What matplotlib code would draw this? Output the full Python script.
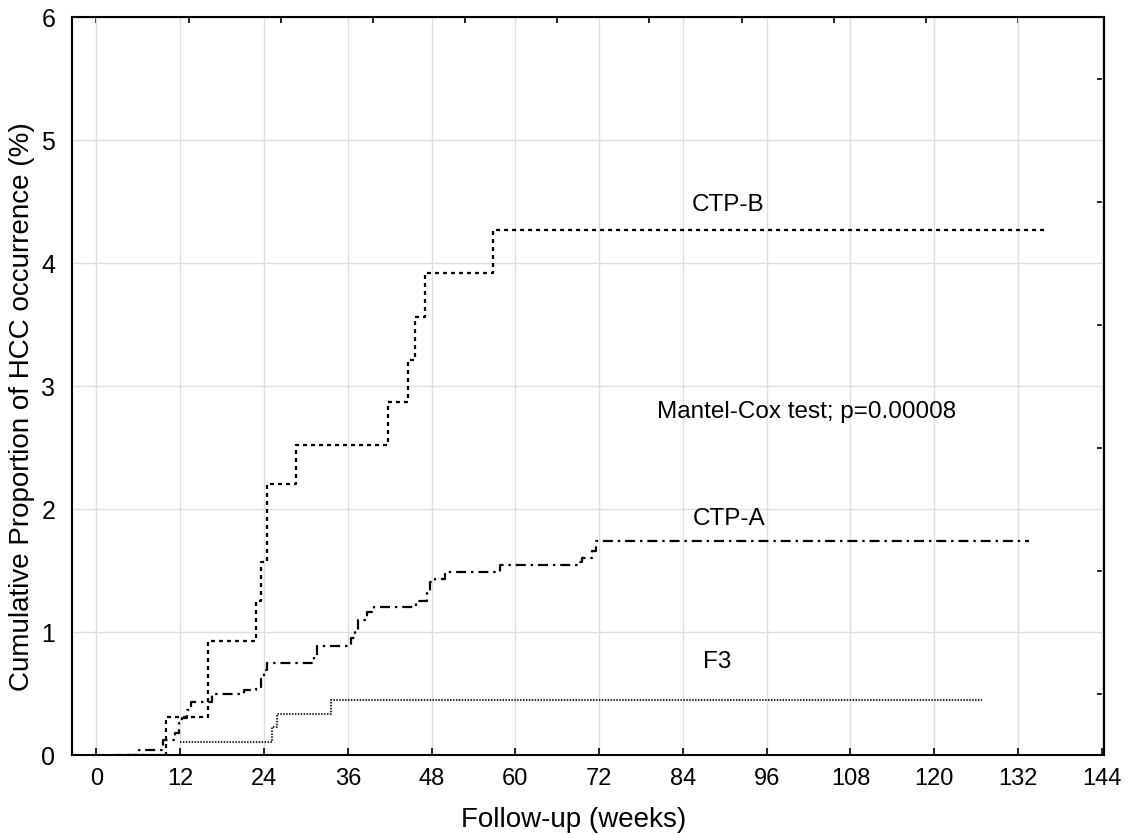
import numpy as np
import matplotlib
matplotlib.use('Agg')
from matplotlib import pyplot as plt

plt.rcParams['font.family'] = ['Liberation Sans', 'DejaVu Sans']

# cumulative proportion of HCC (%) by follow-up week, one step list per group
ctp_b_weeks = [3.0, 10.0, 16.0, 22.8, 23.6, 24.4, 28.6, 41.8, 44.6, 45.6, 47.1, 56.8, 136.2]
ctp_b_prop = [0.0, 0.31, 0.93, 1.25, 1.57, 2.20, 2.52, 2.87, 3.21, 3.56, 3.92, 4.27, 4.27]

ctp_a_weeks = [4.5, 6.1, 9.5, 11.2, 11.8, 12.2, 13.0, 13.6, 16.5, 21.2, 22.8, 23.5,
               24.0, 24.4, 31.2, 31.6, 36.4, 37.0, 37.5, 38.7, 39.8, 45.7, 47.3,
               47.8, 48.5, 49.9, 57.8, 69.0, 69.6, 71.0, 71.6, 133.6]
ctp_a_prop = [0.0, 0.04, 0.12, 0.18, 0.26, 0.30, 0.37, 0.43, 0.50, 0.53, 0.55, 0.62,
              0.69, 0.75, 0.80, 0.886, 0.95, 1.02, 1.10, 1.16, 1.20, 1.25, 1.33,
              1.41, 1.43, 1.49, 1.545, 1.57, 1.60, 1.66, 1.736, 1.736]

f3_weeks = [12.0, 25.2, 25.9, 33.6, 126.8]
f3_prop = [0.109, 0.226, 0.33, 0.45, 0.45]

x_ticks = list(range(0, 145, 12))
y_ticks = [0, 1, 2, 3, 4, 5, 6]

fig = plt.figure(figsize=(11.29, 8.34), dpi=100)
ax = fig.add_axes([0.0638, 0.0947, 0.9140, 0.8849])

ax.step(ctp_b_weeks, ctp_b_prop, where='post', color='black', lw=1.6,
        linestyle=(0, (1.8, 1.8)))
ax.step(ctp_a_weeks, ctp_a_prop, where='post', color='black', lw=1.6,
        linestyle=(0, (4.5, 2.2, 1.1, 2.2)))
ax.step(f3_weeks, f3_prop, where='post', color='#2a2a2a', lw=1.5,
        linestyle=(0, (0.7, 0.7)))

ax.set_xlim(-3.5, 144.3)
ax.set_ylim(0, 6)
ax.set_xticks(x_ticks)
ax.set_yticks(y_ticks)
ax.grid(True, color='#dddddd', lw=1.0)
ax.set_axisbelow(True)
ax.tick_params(axis='x', direction='in', length=5, width=1.2, labelsize=17, pad=9)
ax.tick_params(axis='y', length=0, labelsize=18, pad=12)
for s in ax.spines.values():
    s.set_linewidth(1.5)

# extra inward ticks on the top and right frame
top = ax.secondary_xaxis('top')
top.set_xticks(np.linspace(0, 132, 11))
top.tick_params(direction='in', length=4, width=1.2, labeltop=False)
right = ax.secondary_yaxis('right')
right.set_yticks(np.arange(0.5, 6, 1.0))
right.tick_params(direction='in', length=5, width=1.2, labelright=False)

ax.set_xlabel('Follow-up (weeks)', fontsize=20)
ax.set_ylabel('Cumulative Proportion of HCC occurrence (%)', fontsize=20)
ax.xaxis.set_label_coords(0.486, -0.071)
ax.yaxis.set_label_coords(-0.036, 0.472)

ax.text(90.4, 4.47, 'CTP-B', fontsize=17.5, ha='center', va='center')
ax.text(101.7, 2.79, 'Mantel-Cox test; p=0.00008', fontsize=17.5, ha='center', va='center')
ax.text(90.6, 1.92, 'CTP-A', fontsize=17.5, ha='center', va='center')
ax.text(88.9, 0.76, 'F3', fontsize=17.5, ha='center', va='center')

fig.savefig('out.png', dpi=100)
